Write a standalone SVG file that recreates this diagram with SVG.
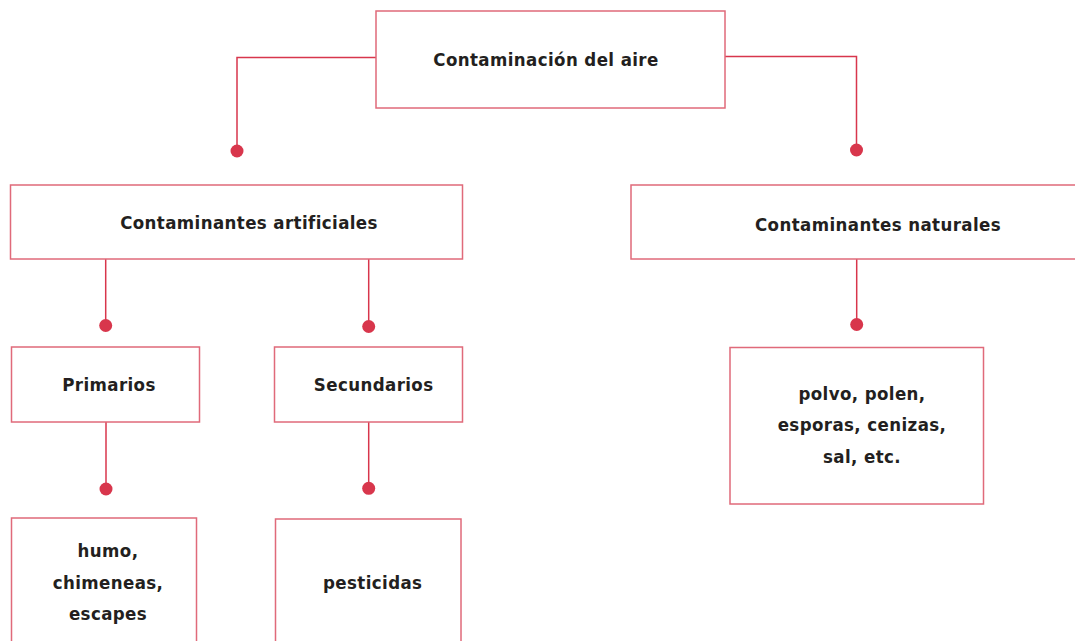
<svg xmlns="http://www.w3.org/2000/svg" width="1075" height="641" viewBox="0 0 1075 641">
<style>
.box{fill:#fff;stroke:#e06a7a;stroke-width:1.5}
.ln{fill:none;stroke:#d8364c;stroke-width:1.5}
.dot{fill:#d8364c}
.t{font-family:"Liberation Sans Narrow","DejaVu Sans Condensed","Liberation Sans",sans-serif;font-weight:bold;font-size:18.5px;fill:#231f20;text-anchor:middle;letter-spacing:0.4px}
</style>
<rect width="1075" height="641" fill="#fff"/>
<g id="connectors">
<path class="ln" d="M376 57.5H237V151"/>
<path class="ln" d="M725 56.5H856.5V150"/>
<path class="ln" d="M105.7 259V325.5"/>
<path class="ln" d="M368.7 259V326.5"/>
<path class="ln" d="M856.7 259V324.5"/>
<path class="ln" d="M106 421.7V489"/>
<path class="ln" d="M368.7 421.7V488.3"/>
<circle class="dot" cx="237" cy="151" r="6.5"/>
<circle class="dot" cx="856.5" cy="150" r="6.5"/>
<circle class="dot" cx="105.7" cy="325.5" r="6.5"/>
<circle class="dot" cx="368.7" cy="326.5" r="6.5"/>
<circle class="dot" cx="856.7" cy="324.5" r="6.5"/>
<circle class="dot" cx="106" cy="489" r="6.5"/>
<circle class="dot" cx="368.7" cy="488.3" r="6.5"/>
</g>
<g id="n-aire">
<rect class="box" x="376" y="11" width="349" height="97"/>
<text class="t" x="546" y="65.5">Contaminación del aire</text>
</g>
<g id="n-artificiales">
<rect class="box" x="10.5" y="185" width="452" height="74"/>
<text class="t" x="249" y="229">Contaminantes artificiales</text>
</g>
<g id="n-naturales">
<rect class="box" x="631" y="185" width="450" height="74"/>
<text class="t" x="878" y="231">Contaminantes naturales</text>
</g>
<g id="n-primarios">
<rect class="box" x="11.5" y="347" width="188" height="75"/>
<text class="t" x="109" y="391">Primarios</text>
</g>
<g id="n-secundarios">
<rect class="box" x="274.5" y="347" width="188" height="75"/>
<text class="t" x="373.7" y="391">Secundarios</text>
</g>
<g id="n-natural-ej">
<rect class="box" x="730" y="347.5" width="253.5" height="156.5"/>
<text class="t" x="862" y="399.5">polvo, polen,</text>
<text class="t" x="862" y="431">esporas, cenizas,</text>
<text class="t" x="862" y="462.5">sal, etc.</text>
</g>
<g id="n-humo">
<rect class="box" x="11.5" y="518" width="185" height="140"/>
<text class="t" x="108" y="557">humo,</text>
<text class="t" x="108" y="588.5">chimeneas,</text>
<text class="t" x="108" y="620">escapes</text>
</g>
<g id="n-pesticidas">
<rect class="box" x="275.5" y="519" width="185.5" height="140"/>
<text class="t" x="372.7" y="588.5">pesticidas</text>
</g>
</svg>
